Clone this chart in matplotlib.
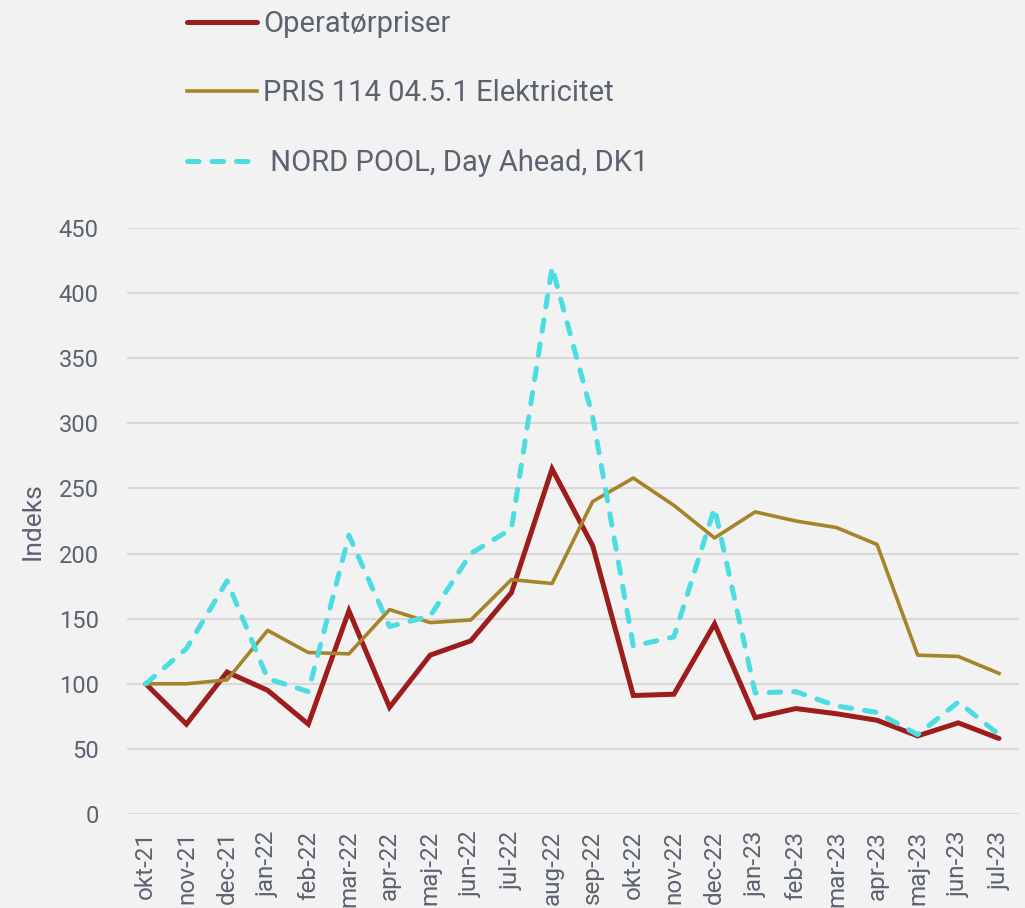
import matplotlib
matplotlib.use('Agg')
import matplotlib.pyplot as plt

months = ['okt-21', 'nov-21', 'dec-21', 'jan-22', 'feb-22', 'mar-22', 'apr-22',
          'maj-22', 'jun-22', 'jul-22', 'aug-22', 'sep-22', 'okt-22', 'nov-22',
          'dec-22', 'jan-23', 'feb-23', 'mar-23', 'apr-23', 'maj-23', 'jun-23', 'jul-23']

operator = [100, 69, 109, 95, 69, 156, 82, 122, 133, 170, 265, 206, 91, 92,
            146, 74, 81, 77, 72, 60, 70, 58]
pris114 = [100, 100, 103, 141, 124, 123, 157, 147, 149, 180, 177, 240, 258, 237,
           212, 232, 225, 220, 207, 122, 121, 108]
nordpool = [100, 127, 179, 104, 94, 214, 144, 152, 200, 219, 420, 305, 129, 136,
            235, 93, 94, 83, 78, 61, 86, 61]

bg = '#F2F2F2'
txt = '#5B6370'
plt.rcParams['font.family'] = ['Roboto', 'DejaVu Sans']

fig = plt.figure(figsize=(10.25, 9.08), dpi=100, facecolor=bg)
ax = fig.add_axes([0.1236, 0.1035, 0.8708, 0.6454], facecolor=bg)

x = range(len(months))
ax.plot(x, operator, color='#9C1D1B', lw=3.6, label='Operatørpriser', zorder=3,
        solid_capstyle='round', solid_joinstyle='miter')
ax.plot(x, pris114, color='#A68429', lw=2.6, label='PRIS 114 04.5.1 Elektricitet', zorder=4)
ax.plot(x, nordpool, color='#4CDDE2', lw=3.6, ls=(0, (2.3, 2.6)), dash_capstyle='round',
        label=' NORD POOL, Day Ahead, DK1', zorder=5)

ax.set_xlim(-0.47, 21.5)
ax.set_ylim(0, 450)
ax.set_yticks(range(0, 451, 50))
ax.set_xticks(list(x))
ax.set_xticklabels(months, rotation=90, fontsize=17.5, color=txt)
ax.tick_params(axis='y', labelsize=17, labelcolor=txt, length=0, pad=20)
ax.tick_params(axis='x', length=0, pad=12)
ax.grid(axis='y', color='#D9D9D9', lw=1.5)
ax.set_axisbelow(True)
for s in ax.spines.values():
    s.set_visible(False)
ax.set_ylabel('Indeks', fontsize=19, color=txt, labelpad=10)

fig.legend(loc='upper left', bbox_to_anchor=(0.157, 1.018), frameon=False,
           fontsize=21, labelcolor=txt, handlelength=2.4, handletextpad=0.2,
           labelspacing=1.42)

fig.savefig('out.png', dpi=100, facecolor=bg)
